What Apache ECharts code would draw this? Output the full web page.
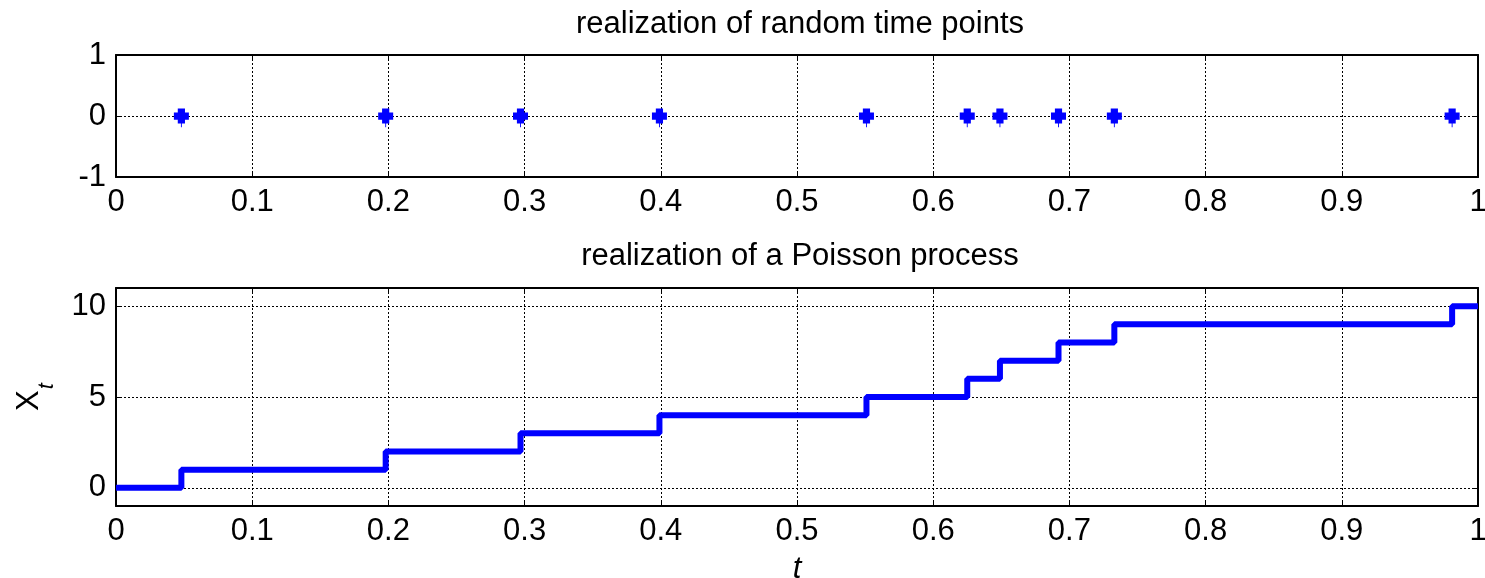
<!DOCTYPE html>
<html>
<head>
<meta charset="utf-8">
<script src="https://cdn.jsdelivr.net/npm/echarts@6/dist/echarts.min.js"></script>
<style>
    html, body { margin: 0; padding: 0; background: #fff; }
    #main { width: 1485px; height: 578px; }
</style>
</head>
<body>
<div id="main"></div>
<script>
    // 随机时间点（上图）
    var eventTimes = [0.048, 0.198, 0.297, 0.399, 0.551, 0.625, 0.649, 0.692, 0.733, 0.981];
    // 泊松过程的阶梯（下图）
    var stepTimes = [0, 0.048, 0.198, 0.297, 0.399, 0.551, 0.625, 0.649, 0.692, 0.733, 0.981, 1];
    var stepCounts = [0, 1, 2, 3, 4, 5, 6, 7, 8, 9, 10, 10];
    // 刻度
    var bottomYTicks = [0, 5, 10];

    var FONT = 'Liberation Sans, Arial, sans-serif';
    var FS = 31;

    var chart = echarts.init(document.getElementById('main'));

    var dotted = { color: '#000', width: 1, type: [2, 2] };
    var border = { show: true, onZero: false, lineStyle: { color: '#000', width: 2 } };
    var tick = { show: true, inside: true, length: 6, lineStyle: { color: '#000', width: 1 } };

    function xMain(grid) {
        return {
            type: 'value', gridIndex: grid, min: 0, max: 1, interval: 0.1,
            axisLine: border,
            axisTick: tick,
            axisLabel: { color: '#000', fontFamily: FONT, fontSize: FS, margin: 10 },
            splitLine: { show: true, lineStyle: dotted }
        };
    }
    function xMirror(grid) {
        return {
            type: 'value', gridIndex: grid, position: 'top', min: 0, max: 1, interval: 0.1,
            axisLine: border,
            axisTick: tick,
            axisLabel: { show: false },
            splitLine: { show: false }
        };
    }

    // 点的形状：粗十字，下面带一根细线
    var plusPath = 'path://M2.6,0L7.4,0L7.4,2.6L10,2.6L10,7.4L7.4,7.4L7.4,10L5.3,10L5.3,12.5L4.7,12.5L4.7,10L2.6,10L2.6,7.4L0,7.4L0,2.6L2.6,2.6Z';

    var option = {
        backgroundColor: '#fff',
        animation: false,
        title: [
            {
                text: 'realization of random time points', left: 795, top: 4, textAlign: 'center',
                textStyle: { fontFamily: FONT, fontSize: FS, fontWeight: 'normal', color: '#000' }
            },
            {
                text: 'realization of a Poisson process', left: 795, top: 236, textAlign: 'center',
                textStyle: { fontFamily: FONT, fontSize: FS, fontWeight: 'normal', color: '#000' }
            }
        ],
        grid: [
            { left: 116, right: 7, top: 55, height: 122, outerBoundsMode: 'none' },
            { left: 116, right: 7, top: 288, height: 218, outerBoundsMode: 'none' }
        ],
        xAxis: [
            xMain(0),
            xMirror(0),
            Object.assign(xMain(1), {
                name: 't', nameLocation: 'middle', nameGap: 48,
                nameTextStyle: { fontFamily: FONT, fontSize: FS, fontStyle: 'italic', color: '#000' }
            }),
            xMirror(1)
        ],
        yAxis: [
            {
                type: 'value', gridIndex: 0, min: -1, max: 1, interval: 1,
                axisLine: border,
                axisTick: tick,
                axisLabel: { color: '#000', fontFamily: FONT, fontSize: FS, margin: 10 },
                splitLine: { show: true, lineStyle: dotted }
            },
            {
                type: 'value', gridIndex: 0, position: 'right', min: -1, max: 1, interval: 1,
                axisLine: border,
                axisTick: tick,
                axisLabel: { show: false },
                splitLine: { show: false }
            },
            {
                type: 'value', gridIndex: 1, min: -1, max: 11,
                axisLine: border,
                axisTick: Object.assign({}, tick, { customValues: bottomYTicks }),
                axisLabel: { color: '#000', fontFamily: FONT, fontSize: FS, margin: 10, customValues: bottomYTicks },
                splitLine: { show: true, lineStyle: dotted },
                name: '{x|X}{s|t}', nameLocation: 'middle', nameGap: 70, nameRotate: 90,
                nameTextStyle: {
                    rich: {
                        x: { fontFamily: FONT, fontSize: 31, color: '#000', verticalAlign: 'top', lineHeight: 32 },
                        s: { fontFamily: FONT, fontSize: 22, fontStyle: 'italic', color: '#000', verticalAlign: 'top', lineHeight: 22, padding: [22, 0, 0, 1] }
                    }
                }
            },
            {
                type: 'value', gridIndex: 1, position: 'right', min: -1, max: 11,
                axisLine: border,
                axisTick: Object.assign({}, tick, { customValues: bottomYTicks }),
                axisLabel: { show: false },
                splitLine: { show: false }
            }
        ],
        series: [
            {
                type: 'scatter', xAxisIndex: 0, yAxisIndex: 0,
                symbol: plusPath, symbolSize: [15, 18.75], symbolOffset: [0, 1.9],
                itemStyle: { color: '#0000ff', opacity: 1 },
                data: eventTimes.map(function (t) { return [t, 0]; })
            },
            {
                type: 'line', xAxisIndex: 2, yAxisIndex: 2, step: 'end',
                showSymbol: false, clip: true,
                lineStyle: { color: '#0000ff', width: 6 },
                data: stepTimes.map(function (t, i) { return [t, stepCounts[i]]; })
            }
        ]
    };

    chart.setOption(option);
</script>
</body>
</html>
